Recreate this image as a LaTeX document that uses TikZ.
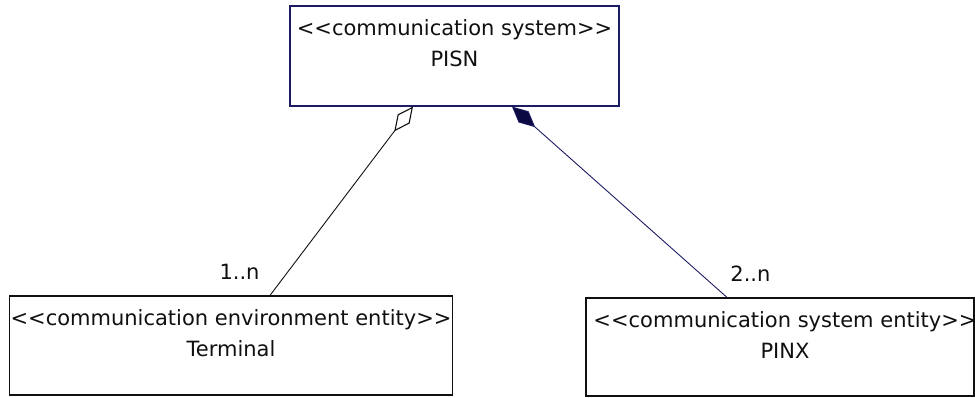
\documentclass[tikz,border=0pt]{standalone}
\usepackage{fontspec}
\newfontfamily\umlfont{DejaVu Sans}
\usetikzlibrary{arrows.meta,positioning,calc}
\definecolor{navy}{HTML}{1C1C64}
\definecolor{deepnavy}{HTML}{0A0A40}
\definecolor{ink}{HTML}{101010}
\tikzset{
  classbox/.style={draw=ink,line width=1.2pt,fill=white,inner sep=0pt},
  systembox/.style={classbox,draw=navy},
  stereo/.style={font=\umlfont\fontsize{21}{31}\selectfont,align=center,anchor=north,inner sep=0pt,text=ink},
  mult/.style={font=\umlfont\fontsize{21}{25}\selectfont,inner sep=0pt,text=ink},
  aggr/.style={draw=ink,line width=0.9pt,-{Diamond[open,length=31pt,width=15pt,line width=1.1pt]}},
  comp/.style={draw=navy,line width=0.9pt,-{Diamond[length=31pt,width=15pt,fill=deepnavy]}}
}
\newcommand{\stype}[1]{<<#1>>}
\begin{document}
\begin{tikzpicture}[x=1pt,y=-1pt]
\useasboundingbox (0,0) rectangle (975,398);
% class boxes
\node[systembox,minimum width=329pt,minimum height=100pt] (pisn) at (454.5,56) {};
\node[classbox,minimum width=443pt,minimum height=99pt] (terminal) at (231,345.5) {};
\node[classbox,minimum width=388pt,minimum height=98pt] (pinx) at (780,347) {};
\node[stereo] (pisn text) at ([yshift=-13.5pt]pisn.north) {\stype{communication system}\\PISN};
\node[stereo] (terminal text) at ([yshift=-13.5pt]terminal.north) {\stype{communication environment entity}\\Terminal};
\node[stereo] (pinx text) at ([xshift=5pt,yshift=-13.5pt]pinx.north) {\stype{communication system entity}\\PINX};
% associations
\coordinate (terminal end) at ([xshift=39pt]terminal.north);
\coordinate (pinx end) at ([xshift=-53pt]pinx.north);
\draw[aggr] (terminal end) -- node[mult,at start,anchor=south east,xshift=-10pt,yshift=15pt] (terminal mult) {1..n} ([xshift=-41.5pt]pisn.south);
\draw[comp] (pinx end) -- node[mult,at start,anchor=south west,xshift=3pt,yshift=15pt] (pinx mult) {2..n} ([xshift=57.5pt]pisn.south);
\end{tikzpicture}
\end{document}
